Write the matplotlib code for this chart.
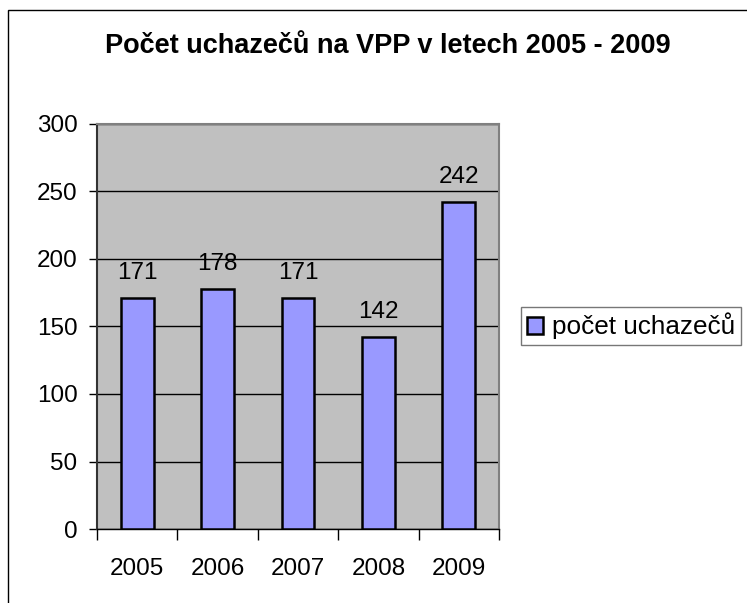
import matplotlib
matplotlib.use("Agg")
import matplotlib.pyplot as plt
from matplotlib.patches import Rectangle

years = ["2005", "2006", "2007", "2008", "2009"]
counts = [171, 178, 171, 142, 242]
yticks = [0, 50, 100, 150, 200, 250, 300]
title = "Počet uchazečů na VPP v letech 2005 - 2009"
series_name = "počet uchazečů"

plt.rcParams['font.family'] = ['Liberation Sans', 'DejaVu Sans']

W, H = 747, 603
fig = plt.figure(figsize=(W/100, H/100), dpi=100)
fig.patch.set_facecolor('white')

# outer frame
fig.patches.append(Rectangle((8/W, -0.01), 1.2, (H-10)/H + 0.01, transform=fig.transFigure,
                             fill=False, edgecolor='black', linewidth=1.0))

l, r, t, b = 97, 499, 124, 529
ax = fig.add_axes([l/W, 1 - b/H, (r-l)/W, (b-t)/H])
ax.set_facecolor('#C0C0C0')
x = range(len(years))
bars = ax.bar(x, counts, width=0.41, color='#9999FF', edgecolor='black', linewidth=1.8,
              label=series_name, zorder=3)
ax.set_xlim(-0.5, len(years) - 0.5)
ax.set_ylim(0, 300)
ax.set_yticks(yticks)
ax.set_yticklabels([str(v) for v in yticks], fontsize=17.5)
ax.set_xticks([i - 0.5 for i in range(len(years) + 1)], minor=False)
ax.set_xticklabels([])
ax.set_xticks(list(x), minor=True)
ax.set_xticklabels(years, minor=True, fontsize=17.5)
ax.tick_params(axis='x', which='minor', length=0, pad=21)
ax.tick_params(axis='x', which='major', length=8, width=1, direction='out')
ax.tick_params(axis='y', length=6, width=1, direction='out', pad=8)
ax.yaxis.grid(True, color='black', linewidth=1.0, zorder=1)
ax.set_axisbelow(True)
for s in ['top', 'right']:
    ax.spines[s].set_color('#808080')
    ax.spines[s].set_linewidth(1.5)
ax.spines['left'].set_color('#333333')
ax.spines['left'].set_linewidth(1.5)
ax.spines['bottom'].set_color('black')
ax.spines['bottom'].set_linewidth(1.0)

for xi, v in zip(x, counts):
    ax.annotate(str(v), (xi, v), xytext=(0, 13.7), textcoords='offset points',
                ha='center', va='baseline', fontsize=17.5)

fig.text((107 + 668) / 2 / W, 1 - 53/H, title, ha='center', va='baseline',
         fontsize=19.5, fontweight='bold')

leg = fig.legend(handles=[bars], labels=[series_name], loc='center left',
                 bbox_to_anchor=(521/W, 1 - 326/H), fontsize=18.8, frameon=True,
                 fancybox=False, handlelength=0.62, handleheight=0.62, handletextpad=0.35,
                 borderpad=0.22, borderaxespad=0)
leg.get_frame().set_edgecolor('#555555')
leg.get_frame().set_linewidth(1.0)

fig.savefig('out.png', dpi=100)
